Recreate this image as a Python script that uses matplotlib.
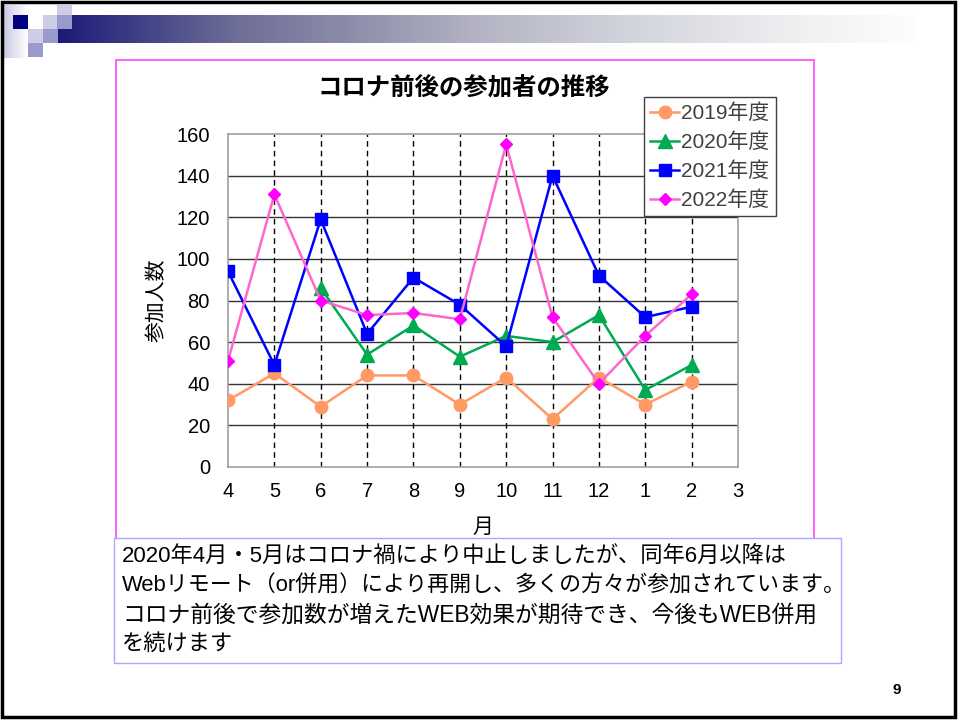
import matplotlib
matplotlib.use("Agg")
import matplotlib.pyplot as plt
import numpy as np
from matplotlib.patches import Rectangle

plt.rcParams['font.family'] = ['Liberation Sans', 'Noto Sans CJK JP']

months = ["4", "5", "6", "7", "8", "9", "10", "11", "12", "1", "2", "3"]
y2019 = [32, 45, 29, 44, 44, 30, 43, 23, 43, 30, 41]
y2020 = [np.nan, np.nan, 86, 54, 68, 53, 63, 60, 73, 37, 49]
y2021 = [94, 49, 119, 64, 91, 78, 58, 140, 92, 72, 77]
y2022 = [51, 131, 80, 73, 74, 71, 155, 72, 40, 63, 83]
labels = ["2019年度", "2020年度", "2021年度", "2022年度"]
yticks = [0, 20, 40, 60, 80, 100, 120, 140, 160]

note_lines = [
    "2020年4月・5月はコロナ禍により中止しましたが、同年6月以降は",
    "Webリモート（or併用）により再開し、多くの方々が参加されています。",
    "コロナ前後で参加数が増えたWEB効果が期待でき、今後もWEB併用",
    "を続けます",
]

W, H = 958, 720
fig = plt.figure(figsize=(W / 100, H / 100), dpi=100)

# slide background in pixel coordinates
bg = fig.add_axes([0, 0, 1, 1], zorder=0)
bg.set_xlim(0, W)
bg.set_ylim(H, 0)
bg.axis("off")

# header gradient bar
stops_x = [57, 240, 340, 480, 640, 800, 915]
stops_c = np.array([[26, 26, 120], [111, 111, 152], [138, 138, 168], [180, 180, 196],
                    [212, 214, 222], [240, 240, 242], [253, 253, 253]]) / 255
xs = np.arange(57, 916)
grad = np.stack([np.interp(xs, stops_x, stops_c[:, k]) for k in range(3)], axis=-1)
bg.imshow(grad[np.newaxis, :, :], extent=(57, 915, 43, 15), aspect="auto", zorder=1)

left_x = np.arange(3, 29)
left_g = np.stack([np.interp(left_x, [3, 28], [c, 1.0]) for c in (200 / 255, 200 / 255, 228 / 255)], axis=-1)
bg.imshow(left_g[np.newaxis, :, :], extent=(3, 28, 58, 5), aspect="auto", zorder=1)

light = "#ccccE6"
mid = "#9999cc"
squares = [(13, 15, "#000080"), (43, 15, light), (57, 5, light), (57, 15, mid),
           (28, 29, light), (43, 29, mid), (28, 43, mid)]
for sx, sy, c in squares:
    bg.add_patch(Rectangle((sx, sy), 15, 14, facecolor=c, edgecolor="none", zorder=2))

# slide border
bg.add_patch(Rectangle((2, 2), 953, 715, fill=False, edgecolor="black", lw=2.5, zorder=3))

# chart frame
bg.add_patch(Rectangle((116, 60), 698, 490, fill=False, edgecolor="#ff55ff", lw=1.3, zorder=2))

# note box
bg.add_patch(Rectangle((114, 538), 727, 125, facecolor="white", edgecolor="#a8a8ff", lw=1.0, zorder=4))
note_sizes = [16.0, 15.8, 16.4, 16.0]
for i, line in enumerate(note_lines):
    bg.text(122, 557 + i * 29, line, fontsize=note_sizes[i], va="center", ha="left",
            color="black", zorder=5)

bg.text(897, 690, "9", fontsize=11, fontweight="bold", ha="center", va="center")

# chart
ax = fig.add_axes([228 / W, 1 - 467 / H, 510 / W, 333 / H], zorder=2)
x = np.arange(len(y2019))

ax.plot(x, y2019, color="#ff9966", lw=1.8, marker="o", ms=9, mfc="#ff9966", mec="#ff9966",
        label=labels[0], zorder=3)
ax.plot(x, y2020, color="#00aa50", lw=1.8, marker="^", ms=9.5, mfc="#00aa50", mec="#00aa50",
        label=labels[1], zorder=3)
ax.plot(x, y2021, color="#0000ff", lw=1.8, marker="s", ms=8, mfc="#0000ff", mec="#0000ff",
        label=labels[2], zorder=3)
ax.plot(x, y2022, color="#ff66cc", lw=1.8, marker="D", ms=6.5, mfc="#ff00ff", mec="#ff00ff",
        label=labels[3], zorder=3)

ax.set_xlim(0, 11)
ax.set_ylim(0, 160)
ax.set_yticks(yticks)
ax.set_xticks(np.arange(len(months)))
ax.set_xticklabels(months)
ax.tick_params(axis="both", length=0, labelsize=14.5, colors="black")
ax.tick_params(axis="y", pad=13)
ax.tick_params(axis="x", pad=11)

for v in yticks[1:-1]:
    ax.axhline(v, color="#333333", lw=1.0, zorder=1)
for i in range(1, 11):
    ax.axvline(i, color="black", lw=1.0, ls=(0, (4, 3)), zorder=1)

for s in ax.spines.values():
    s.set_color("#a0a0a0")
    s.set_linewidth(1.2)

ax.set_xlabel("月", fontsize=15, labelpad=12)
ax.set_ylabel("参加人数", fontsize=15, labelpad=7)
fig.text(464 / W, 1 - 88 / H, "コロナ前後の参加者の推移", fontsize=17.6, fontweight="bold",
         ha="center", va="center")

leg = ax.legend(loc="upper left", bbox_to_anchor=(644 / W, 1 - 97 / H), bbox_transform=fig.transFigure,
                fontsize=15, frameon=True, fancybox=False, edgecolor="#404040", framealpha=1,
                handlelength=1.4, handletextpad=0.1, labelspacing=0.45, borderpad=0.3,
                borderaxespad=0)
leg.get_frame().set_linewidth(1.0)
for t in leg.get_texts():
    t.set_color("#404040")

fig.savefig("out.png", dpi=100)
